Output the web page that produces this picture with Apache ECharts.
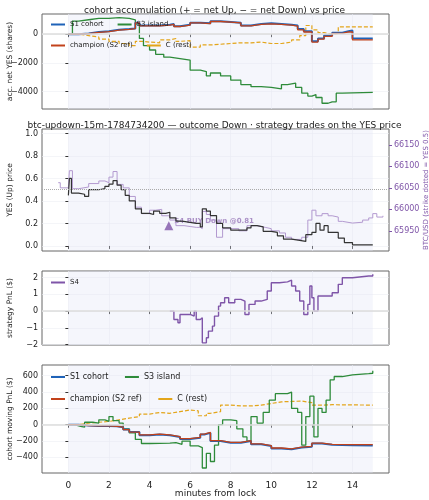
<!DOCTYPE html>
<html>
<head>
<meta charset="utf-8">
<script src="https://cdn.jsdelivr.net/npm/echarts@6/dist/echarts.min.js"></script>
<style>html,body{margin:0;padding:0;background:#fff}#chart{width:429px;height:500px}</style>
</head>
<body>
<div id="chart"></div>
<script>
// panel 1: accumulated net YES shares
var accS1 = [[0,0],[0.5,50],[1,150],[1.5,200],[2,300],[2.5,350],[3,400],[3.3,800],[3.5,600],[4,600],[4.5,650],[5,700],[5.2,550],[5.5,650],[6,800],[6.5,750],[7,900],[7.5,850],[8,800],[8.5,600],[9,700],[9.5,750],[10,700],[10.5,650],[11,600],[11.3,350],[11.6,200],[12,-500],[12.3,-300],[12.6,-100],[13,100],[13.5,200],[13.8,250],[14,-300],[15,-300]];
var accChamp = [[0,0],[0.5,40],[1,130],[1.5,180],[2,280],[2.5,330],[3,380],[3.3,780],[3.5,580],[4,580],[4.5,630],[5,680],[5.2,530],[5.5,630],[6,780],[6.5,730],[7,880],[7.5,830],[8,780],[8.5,580],[9,680],[9.5,720],[10,680],[10.5,620],[11,560],[11.3,300],[11.6,150],[12,-550],[12.3,-350],[12.6,-150],[13,50],[13.5,150],[13.8,150],[14,-400],[15,-400]];
var accS3 = [[0,0],[0.2,900],[0.5,1000],[1,1100],[1.5,1100],[2,1150],[2.5,1100],[3,1000],[3.3,700],[3.5,-300],[3.7,-800],[4,-1100],[4.3,-1400],[4.7,-1600],[5,-1700],[5.5,-1800],[6,-2500],[6.5,-2600],[6.8,-2900],[7,-2700],[7.5,-2900],[8,-3200],[8.5,-3500],[9,-3650],[9.5,-3700],[10,-3800],[10.5,-3500],[10.8,-3400],[11.2,-3700],[11.5,-4100],[11.8,-4300],[12,-4200],[12.2,-4400],[12.5,-4800],[12.8,-4700],[13,-4700],[13.2,-4100],[13.5,-4050],[15,-4050]];
var accRest = [[0,0],[0.5,-100],[1,-200],[1.5,-350],[2,-500],[2.5,-650],[3,-800],[3.3,-500],[3.6,-550],[4,-600],[4.5,-400],[5,-300],[5.3,-500],[5.5,-450],[6,-900],[6.5,-750],[7,-700],[7.5,-650],[8,-600],[8.5,-600],[9,-550],[9.5,-650],[10,-650],[10.5,-550],[11,-400],[11.4,-100],[11.7,600],[12,300],[12.3,100],[12.6,0],[13,50],[13.3,500],[13.6,500],[15,500]];

// panel 2: YES price and BTC
var yesPrice = [[0,0.45],[0.05,0.6],[0.15,0.47],[0.5,0.46],[0.8,0.44],[1,0.5],[1.5,0.51],[1.8,0.53],[2,0.55],[2.2,0.58],[2.4,0.54],[2.6,0.5],[2.8,0.45],[3,0.4],[3.3,0.33],[3.6,0.29],[4,0.28],[4.2,0.31],[4.5,0.29],[4.8,0.3],[5,0.25],[5.3,0.22],[5.6,0.21],[6,0.2],[6.3,0.2],[6.5,0.17],[6.6,0.33],[6.8,0.31],[7,0.27],[7.3,0.2],[7.6,0.16],[8,0.14],[8.4,0.14],[8.8,0.16],[9,0.18],[9.3,0.17],[9.6,0.13],[10,0.12],[10.3,0.09],[10.6,0.06],[11,0.05],[11.4,0.04],[11.7,0.1],[12,0.12],[12.2,0.2],[12.4,0.14],[12.6,0.18],[12.8,0.12],[13,0.12],[13.3,0.07],[13.6,0.03],[14,0.01],[14.5,0.01],[15,0.01]];
var btcPrice = [[-0.5,66062],[-0.4,66050],[0,66050],[0.05,66090],[0.2,66048],[0.5,66052],[1,66060],[1.5,66066],[1.8,66062],[2,66075],[2.2,66088],[2.4,66058],[2.7,66050],[3,66030],[3.3,66005],[3.6,65990],[4,65998],[4.3,66000],[4.6,65985],[5,65975],[5.3,65962],[5.7,65960],[6,65958],[6.3,65958],[6.5,65955],[6.6,65995],[6.8,65988],[7,65975],[7.3,65935],[7.6,65955],[8,65955],[8.4,65950],[8.8,65962],[9,65962],[9.3,65958],[9.7,65955],[10,65950],[10.4,65945],[10.7,65935],[11,65930],[11.5,65935],[11.8,65975],[12,65998],[12.2,65985],[12.5,65990],[12.8,65985],[13,65982],[13.3,65972],[13.5,65968],[14,65970],[14.5,65975],[14.8,65980],[15,65990],[15.2,65982],[15.5,65985]];
var strikeYes = 0.5;
var buyMarker = [4.95, 0.18];
var buyLabel = "S4 BUY Down @0.81";

// panel 3: strategy PnL
var pnlS4 = [[5,0],[5.2,-0.5],[5.4,-0.7],[5.5,-0.2],[5.8,-0.2],[6,-0.3],[6.2,0],[6.3,-0.5],[6.5,-0.4],[6.6,-1.9],[6.8,-1.6],[6.9,-1.2],[7.1,-0.9],[7.2,-0.3],[7.4,0.3],[7.5,0.5],[7.7,0.8],[7.9,0.5],[8.2,0.7],[8.5,0.6],[8.7,-0.2],[8.9,0.4],[9.2,0.6],[9.5,0.7],[9.8,1.2],[10,1.7],[10.4,1.75],[10.8,1.85],[11,1.5],[11.2,1.2],[11.4,0.6],[11.6,-0.2],[11.8,0.4],[11.9,1.5],[12,0.8],[12.1,0],[12.3,0.9],[12.6,0.9],[13,1.1],[13.3,1.6],[13.5,2.0],[14,2.1],[14.8,2.1],[15,2.2]];

// panel 4: cohort moving PnL
var mtmS1 = [[0,0],[0.5,-10],[1,-15],[1.5,-15],[2,-20],[2.4,-30],[2.7,-60],[3,-90],[3.5,-130],[4,-120],[4.5,-130],[5,-150],[5.5,-175],[6,-160],[6.5,-120],[6.7,-100],[7,-200],[7.5,-220],[8,-220],[8.5,-200],[9,-240],[9.5,-260],[10,-290],[10.5,-300],[11,-280],[11.5,-270],[12,-230],[12.5,-245],[13,-250],[14,-255],[15,-260]];
var mtmChamp = [[0,0],[0.5,-10],[1,-15],[1.5,-15],[2,-20],[2.4,-30],[2.7,-60],[3,-90],[3.5,-125],[4,-115],[4.5,-125],[5,-145],[5.5,-170],[6,-155],[6.5,-115],[6.7,-95],[7,-195],[7.5,-215],[8,-215],[8.5,-195],[9,-235],[9.5,-255],[10,-285],[10.5,-295],[11,-275],[11.5,-265],[12,-225],[12.5,-240],[13,-243],[14,-244],[15,-245]];
var mtmS3 = [[0,0],[0.3,-20],[0.6,-30],[0.8,30],[1.2,20],[1.5,60],[1.8,40],[2,100],[2.2,50],[2.5,20],[2.7,-50],[3,-100],[3.3,-180],[3.6,-230],[4,-225],[5,-220],[5.3,-240],[5.6,-200],[6,-260],[6.4,-280],[6.6,-530],[6.8,-350],[7,-450],[7.2,-250],[7.4,0],[7.6,60],[8,50],[8.3,-50],[8.6,-150],[8.8,-200],[9,100],[9.3,20],[9.6,150],[9.9,300],[10.2,380],[10.8,400],[11,200],[11.3,150],[11.5,-250],[11.7,100],[11.9,350],[12.1,-150],[12.3,200],[12.5,150],[12.7,300],[12.9,550],[13.1,590],[13.5,610],[14,625],[14.8,630],[15,660]];
var mtmRest = [[0,0],[0.5,20],[1,30],[1.5,40],[2,60],[2.5,80],[3,100],[3.5,130],[4,150],[4.5,140],[5,160],[5.5,180],[6,170],[6.4,110],[6.8,140],[7,160],[7.5,240],[8,230],[8.5,230],[9,240],[9.5,260],[10,280],[10.5,285],[11,290],[11.5,270],[12,240],[12.5,245],[13,240],[15,240]];

var xTicks = [0, 2, 4, 6, 8, 10, 12, 14];

var BLUE = "#1f63b8", RED = "#c2421b", GREEN = "#2e8b3a", ORANGE = "#e3a51a", PURPLE = "#7f55a8", BTC = "#b39ad0";
var FONT = "DejaVu Sans";
var tops = [14, 129, 271, 365], heights = [95, 122, 74, 108];

function plain(v) { return String(Math.round(v * 100) / 100).replace("-", "−"); }

function xAxis(i, showLabels) {
  return {
    type: "value", gridIndex: i, min: -1.3, max: 15.8,
    axisLine: { show: false },
    axisTick: { show: true, length: 3, lineStyle: { color: "#333" }, customValues: xTicks },
    axisLabel: { show: showLabels, fontSize: 9, color: "#222", fontFamily: FONT, customValues: xTicks, formatter: plain },
    splitLine: { show: true, lineStyle: { color: "#eceef3", width: 0.6 } },
    name: showLabels ? "minutes from lock" : "", nameLocation: "middle", nameGap: 16, nameMoveOverlap: false,
    nameTextStyle: { fontSize: 9, color: "#222", fontFamily: FONT }
  };
}
function yAxis(i, min, max, name, ticks, fmt) {
  return {
    type: "value", gridIndex: i, min: min, max: max,
    axisLine: { show: false },
    axisTick: { show: true, length: 3, lineStyle: { color: "#333" }, customValues: ticks },
    axisLabel: { fontSize: 8, margin: 4, color: "#222", fontFamily: FONT, customValues: ticks, formatter: fmt || plain },
    splitLine: { show: true, lineStyle: { color: "#eceef3", width: 0.6 } },
    name: name, nameLocation: "middle", nameGap: 32, nameRotate: 90, nameMoveOverlap: false,
    nameTextStyle: { fontSize: 7.5, color: "#222", fontFamily: FONT, verticalAlign: "middle" }
  };
}
function shade() {
  return { silent: true, itemStyle: { color: "rgba(225,230,245,0.35)" }, data: [[{ xAxis: 0 }, { xAxis: 15 }]] };
}
function zeroLine() {
  return { silent: true, symbol: "none", label: { show: false }, lineStyle: { color: "#ddd", width: 1.5, type: "solid" }, data: [{ yAxis: 0 }] };
}
function line(name, data, color, xi, yi, opts) {
  return Object.assign({
    name: name, type: "line", data: data, xAxisIndex: xi, yAxisIndex: yi, step: "end",
    symbol: "none", lineStyle: { color: color, width: 1.3 }, itemStyle: { color: color }
  }, opts || {});
}

var chart = echarts.init(document.getElementById("chart"));
chart.setOption({
  animation: false,
  textStyle: { fontFamily: FONT },
  title: [
    { text: "cohort accumulation (+ = net Up, − = net Down) vs price", left: "center", top: 1, textStyle: { fontSize: 9, fontWeight: "normal", color: "#222" } },
    { text: "btc-updown-15m-1784734200 — outcome Down · strategy trades on the YES price", left: "center", top: 116, textStyle: { fontSize: 9, fontWeight: "normal", color: "#222" } }
  ],
  legend: [
    { data: ["S1 cohort", "S3 island", "champion (S2 ref)", "C (rest)"], left: 46, top: 16, width: 150, itemWidth: 14, itemHeight: 2, itemGap: 14, textStyle: { fontSize: 7, color: "#222" }, icon: "rect" },
    { data: ["S4"], left: 46, top: 274, itemWidth: 14, itemHeight: 2, textStyle: { fontSize: 7, color: "#222" }, icon: "rect" },
    { data: ["S1 cohort ", "S3 island ", "champion (S2 ref) ", "C (rest) "],
      left: 46, top: 368, width: 170, itemWidth: 14, itemHeight: 2, itemGap: 14, icon: "rect", textStyle: { fontSize: 8, color: "#222" } }
  ],
  grid: tops.map(function (t, i) {
    return { left: 42, right: 40, top: t, height: heights[i], show: true, borderColor: "#666", borderWidth: 1, backgroundColor: "#fff", outerBoundsMode: "none", containLabel: false };
  }),
  xAxis: [xAxis(0, false), xAxis(1, false), xAxis(2, false), xAxis(3, true)],
  yAxis: [
    yAxis(0, -5200, 1400, "acc. net YES (shares)", [-4000, -2000, 0]),
    yAxis(1, -0.045, 1.04, "YES (Up) price", [0, 0.2, 0.4, 0.6, 0.8, 1.0], function (v) { return v.toFixed(1); }),
    {
      type: "value", gridIndex: 1, position: "right", min: 65903, max: 66187,
      axisLine: { show: false },
      axisTick: { show: true, length: 3, lineStyle: { color: PURPLE }, customValues: [65950, 66000, 66050, 66100, 66150] },
      axisLabel: { fontSize: 8, color: PURPLE, margin: 5, customValues: [65950, 66000, 66050, 66100, 66150], formatter: plain },
      splitLine: { show: false },
      name: "BTC/USD (strike dotted = YES 0.5)", nameLocation: "middle", nameGap: 34, nameRotate: 90, nameMoveOverlap: false,
      nameTextStyle: { fontSize: 7, color: PURPLE }
    },
    yAxis(2, -2.03, 2.4, "strategy PnL ($)", [-2, -1, 0, 1, 2]),
    yAxis(3, -591, 731, "cohort moving PnL ($)", [-400, -200, 0, 200, 400, 600])
  ],
  series: [
    line("C (rest)", accRest, ORANGE, 0, 0, { lineStyle: { color: ORANGE, width: 1.2, type: [4, 2] }, markArea: shade(), markLine: zeroLine() }),
    line("S3 island", accS3, GREEN, 0, 0),
    line("S1 cohort", accS1, BLUE, 0, 0, { lineStyle: { color: BLUE, width: 2 } }),
    line("champion (S2 ref)", accChamp, RED, 0, 0),

    line("BTC", btcPrice, BTC, 1, 2, { lineStyle: { color: BTC, width: 1 }, markArea: shade() }),
    line("YES", yesPrice, "#333", 1, 1, { lineStyle: { color: "#333", width: 1.2 },
      markLine: { silent: true, symbol: "none", label: { show: false }, lineStyle: { color: "#aaa", width: 1, type: "dotted" }, data: [{ yAxis: strikeYes }] } }),
    { type: "scatter", xAxisIndex: 1, yAxisIndex: 1, data: [buyMarker], symbol: "triangle", symbolSize: 9,
      itemStyle: { color: PURPLE },
      label: { show: true, formatter: buyLabel, position: "right", distance: 1, offset: [0, -5], fontSize: 7, fontWeight: "bold", color: "rgba(127,85,168,0.8)" } },

    line("S4", pnlS4, PURPLE, 2, 3, { lineStyle: { color: PURPLE, width: 1.4 }, markArea: shade(), markLine: zeroLine() }),

    line("C (rest) ", mtmRest, ORANGE, 3, 4, { lineStyle: { color: ORANGE, width: 1.2, type: [4, 2] }, markArea: shade(), markLine: zeroLine() }),
    line("S3 island ", mtmS3, GREEN, 3, 4),
    line("S1 cohort ", mtmS1, BLUE, 3, 4, { lineStyle: { color: BLUE, width: 2 } }),
    line("champion (S2 ref) ", mtmChamp, RED, 3, 4)
  ]
});
</script>
</body>
</html>
